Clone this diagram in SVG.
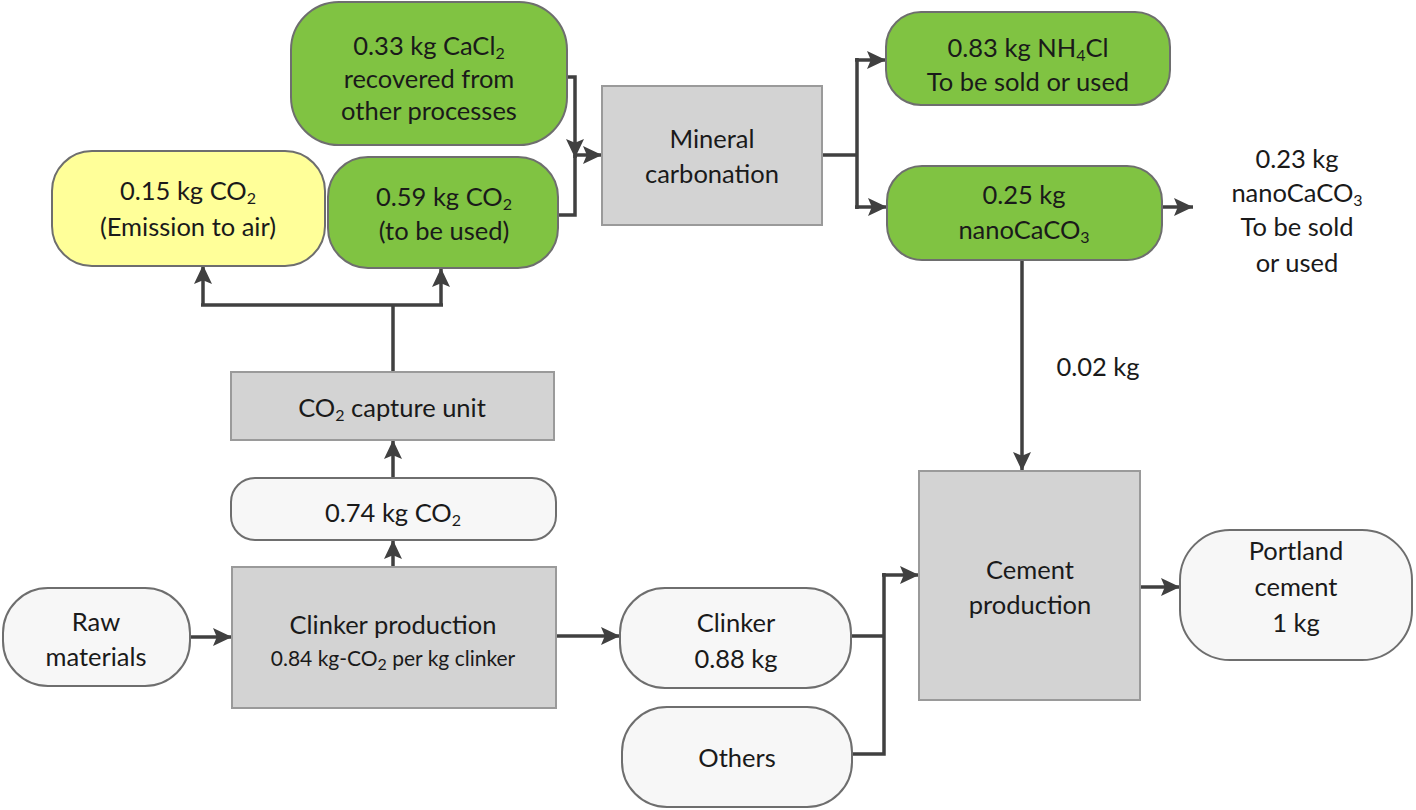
<svg xmlns="http://www.w3.org/2000/svg" width="1416" height="810" viewBox="0 0 1416 810">
<defs>
<marker id="ah" viewBox="0 0 10 10" refX="10" refY="5" markerWidth="19" markerHeight="18" markerUnits="userSpaceOnUse" orient="auto" preserveAspectRatio="none">
<path d="M0,0 L10,5 L0,10 L2,5 Z" fill="#404040"/>
</marker>
<style>
.g{fill:#80c342;stroke:#6e6e6e;stroke-width:2}
.y{fill:#ffff99;stroke:#6e6e6e;stroke-width:2}
.w{fill:#f7f7f7;stroke:#6e6e6e;stroke-width:2}
.p{fill:#d3d3d3;stroke:#9a9a9a;stroke-width:2}
text{font-family:Lato,"Open Sans",sans-serif;font-size:25.5px;fill:#1a1a1a;text-anchor:middle;dominant-baseline:central}
.s{font-size:16px}
.sm{font-size:21px}
.c{fill:none;stroke:#404040;stroke-width:3.5}
.a{fill:none;stroke:#404040;stroke-width:3.5;marker-end:url(#ah)}
</style>
</defs>
<rect width="1416" height="810" fill="#ffffff"/>
<g id="connectors">
<path class="a" d="M190,637 H232"/>
<path class="a" d="M556,636 H620"/>
<path class="a" d="M393,567 V540"/>
<path class="a" d="M393,478 V440"/>
<path class="c" d="M393,372 V305 M201,305 H443"/>
<path class="a" d="M203,306 V265"/>
<path class="a" d="M441,306 V268"/>
<path class="c" d="M567,77 H575 V128"/>
<path class="a" d="M575,128 V158"/>
<path class="c" d="M558,215 H575 V155"/>
<path class="a" d="M575,155 H602"/>
<path class="c" d="M822,155 H857 M857,58 V209"/>
<path class="a" d="M855,60 H886"/>
<path class="a" d="M855,207 H887"/>
<path class="a" d="M1162,207 H1193"/>
<path class="a" d="M1022,260 V471"/>
<path class="c" d="M851,636 H884 M852,754 H884 V573"/>
<path class="a" d="M882,575 H919"/>
<path class="a" d="M1140,587 H1180"/>
</g>
<g id="cacl2"><rect class="g" x="291" y="2" width="276" height="143" rx="48"/>
<text x="429" y="45">0.33 kg CaCl<tspan class="s" dy="7">2</tspan></text>
<text x="429" y="78">recovered from</text>
<text x="429" y="110">other processes</text></g>
<g id="emission"><rect class="y" x="52" y="151" width="273" height="115" rx="40"/>
<text x="188" y="190">0.15 kg CO<tspan class="s" dy="7">2</tspan></text>
<text x="188" y="226">(Emission to air)</text></g>
<g id="co2used"><rect class="g" x="328" y="157" width="230" height="111" rx="40"/>
<text x="444" y="196">0.59 kg CO<tspan class="s" dy="7">2</tspan></text>
<text x="444" y="230">(to be used)</text></g>
<g id="mineral"><rect class="p" x="602" y="86" width="220" height="139"/>
<text x="712" y="138">Mineral</text>
<text x="712" y="173">carbonation</text></g>
<g id="nh4cl"><rect class="g" x="886" y="12" width="284" height="93" rx="35"/>
<text x="1028" y="47">0.83 kg NH<tspan class="s" dy="7">4</tspan><tspan dy="-7">Cl</tspan></text>
<text x="1028" y="81">To be sold or used</text></g>
<g id="nanocaco3"><rect class="g" x="887" y="166" width="275" height="94" rx="35"/>
<text x="1024" y="194">0.25 kg</text>
<text x="1024" y="229">nanoCaCO<tspan class="s" dy="7">3</tspan></text></g>
<g id="nanosold">
<text x="1297" y="158">0.23 kg</text>
<text x="1297" y="192">nanoCaCO<tspan class="s" dy="7">3</tspan></text>
<text x="1297" y="226">To be sold</text>
<text x="1297" y="262">or used</text></g>
<g id="label002"><text x="1098" y="366">0.02 kg</text></g>
<g id="capture"><rect class="p" x="231" y="372" width="323" height="68"/>
<text x="392" y="407">CO<tspan class="s" dy="7">2</tspan><tspan dy="-7"> capture unit</tspan></text></g>
<g id="co2074"><rect class="w" x="231" y="478" width="325" height="62" rx="24"/>
<text x="393" y="512">0.74 kg CO<tspan class="s" dy="7">2</tspan></text></g>
<g id="clinkerprod"><rect class="p" x="232" y="567" width="324" height="141"/>
<text x="393" y="624">Clinker production</text>
<text class="sm" x="393" y="657">0.84 kg-CO<tspan class="s" dy="6">2</tspan><tspan dy="-6"> per kg clinker</tspan></text></g>
<g id="raw"><rect class="w" x="3" y="588" width="187" height="98" rx="45"/>
<text x="96" y="621">Raw</text>
<text x="96" y="656">materials</text></g>
<g id="clinker"><rect class="w" x="620" y="588" width="231" height="100" rx="45"/>
<text x="736" y="622">Clinker</text>
<text x="736" y="658">0.88 kg</text></g>
<g id="others"><rect class="w" x="622" y="707" width="230" height="100" rx="45"/>
<text x="737" y="757">Others</text></g>
<g id="cementprod"><rect class="p" x="919" y="471" width="221" height="229"/>
<text x="1030" y="569">Cement</text>
<text x="1030" y="604">production</text></g>
<g id="portland"><rect class="w" x="1180" y="530" width="232" height="130" rx="50"/>
<text x="1296" y="550">Portland</text>
<text x="1296" y="586">cement</text>
<text x="1296" y="622">1 kg</text></g>
</svg>
